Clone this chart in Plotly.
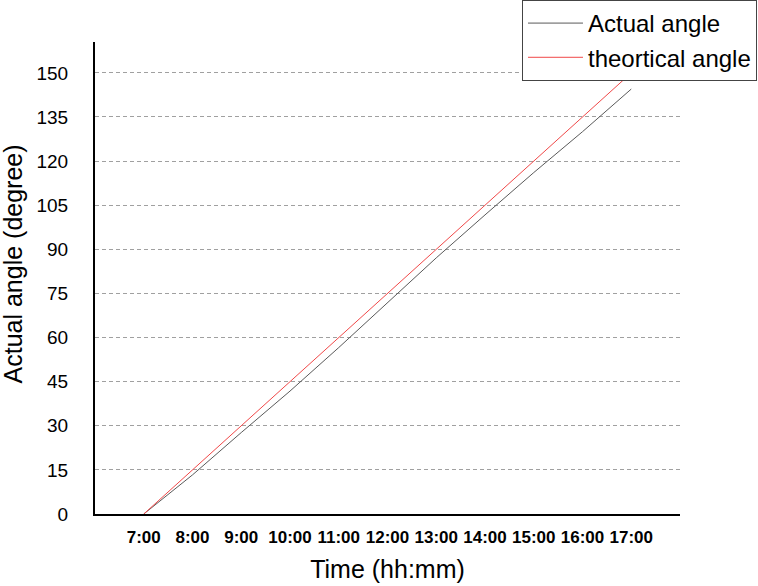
import plotly.graph_objects as go

hours = [7, 8, 9, 10, 11, 12, 13, 14, 15, 16, 17]
tick_labels = ["7:00", "8:00", "9:00", "10:00", "11:00", "12:00", "13:00", "14:00", "15:00", "16:00", "17:00"]
actual_angle = [0, 13.3, 27.7, 41.8, 56.6, 71.9, 87.1, 101.7, 116.1, 130.0, 144.5]
theoretical_angle = [0, 15, 30, 45, 60, 75, 90, 105, 120, 135, 150]
y_ticks = [0, 15, 30, 45, 60, 75, 90, 105, 120, 135, 150]

FONT = "Liberation Sans, Arial, sans-serif"

fig = go.Figure()
fig.add_trace(go.Scatter(x=hours, y=actual_angle, mode="lines", name="Actual angle",
                         line=dict(color="#5a5a5a", width=1)))
fig.add_trace(go.Scatter(x=hours, y=theoretical_angle, mode="lines", name="theortical angle",
                         line=dict(color="#f04848", width=1)))

fig.update_layout(
    width=758, height=586,
    margin=dict(l=95, r=78, t=42, b=72, autoexpand=False),
    paper_bgcolor="white", plot_bgcolor="white",
    font=dict(family=FONT, color="black"),
    showlegend=True,
    legend=dict(x=1.1316, y=1.089, xanchor="right", yanchor="top",
                bordercolor="#444", borderwidth=1, bgcolor="white",
                font=dict(size=24, family=FONT), itemwidth=55,
                tracegroupgap=0),
    xaxis=dict(range=[6, 18], tickvals=hours, ticktext=tick_labels, automargin=False,
               showgrid=False, zeroline=False, showline=True, linecolor="black", linewidth=2,
               ticks="", tickfont=dict(size=17, family=FONT, weight="bold"),
               ticklabelstandoff=7,
               title=dict(text="Time (hh:mm)", font=dict(size=25, family=FONT), standoff=14)),
    yaxis=dict(range=[0, 160.5], tickvals=y_ticks, automargin=False,
               showgrid=True, gridcolor="#a0a0a0", griddash="4px,3px", gridwidth=1,
               zeroline=False, showline=True, linecolor="black", linewidth=2,
               ticks="", tickfont=dict(size=19, family=FONT),
               ticklabelstandoff=21),
    annotations=[dict(text="Actual angle (degree)", textangle=-90,
                      xref="paper", yref="paper", x=-0.1402, y=0.5307,
                      xanchor="center", yanchor="middle", showarrow=False,
                      font=dict(size=25, family=FONT, color="black"))],
)

fig.write_html("out.html", config={"displayModeBar": False},
               post_script="document.body.style.margin='0px';")
